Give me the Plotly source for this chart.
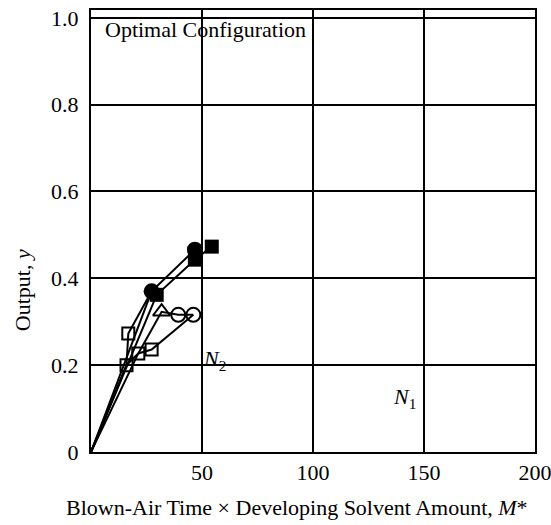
import plotly.graph_objects as go

# Data
fc_x = [0, 27.3, 46.8]            # filled circles
fc_y = [0, 0.370, 0.466]
fs_x = [0, 29.6, 46.8, 54.4]      # filled squares
fs_y = [0, 0.362, 0.443, 0.473]
osq_up_x = [0, 16.0, 16.8, 27.3]  # open squares path rising to the filled cluster
osq_up_y = [0, 0.200, 0.273, 0.370]
osq_x = [0, 16.0, 21.3, 27.3, 46.1]  # open squares path ending on open circle
osq_y = [0, 0.200, 0.227, 0.236, 0.316]
tri_x = [0, 21.3, 31.8, 39.3, 46.1]  # triangle / open circle path
tri_y = [0, 0.227, 0.323, 0.316, 0.316]

open_sq_x = [16.0, 16.8, 21.3, 27.3]
open_sq_y = [0.200, 0.273, 0.227, 0.236]
triangle_x = [31.8]
triangle_y = [0.323]
open_c_x = [39.3, 46.1]
open_c_y = [0.316, 0.316]

y_ticks = [0, 0.2, 0.4, 0.6, 0.8, 1.0]
y_ticktext = ["0", "0.2", "0.4", "0.6", "0.8", "1.0"]
x_ticks = [50, 100, 150, 200]
x_ticktext = ["50", "100", "150", "200"]

FONT = "Liberation Serif"
FS = 22
fig = go.Figure()

line = dict(color="black", width=2)
for xs, ys in [(fc_x, fc_y), (fs_x, fs_y), (osq_up_x, osq_up_y), (osq_x, osq_y), (tri_x, tri_y)]:
    fig.add_trace(go.Scatter(x=xs, y=ys, mode="lines", line=line, showlegend=False, hoverinfo="skip"))

fig.add_trace(go.Scatter(x=open_sq_x, y=open_sq_y, mode="markers",
                         marker=dict(symbol="square-open", size=12, color="black", line=dict(width=2)),
                         showlegend=False))
fig.add_trace(go.Scatter(x=triangle_x, y=triangle_y, mode="markers",
                         marker=dict(symbol="triangle-up-open", size=15, color="black", line=dict(width=2)),
                         showlegend=False))
fig.add_trace(go.Scatter(x=open_c_x, y=open_c_y, mode="markers",
                         marker=dict(symbol="circle-open", size=14, color="black", line=dict(width=2)),
                         showlegend=False))
fig.add_trace(go.Scatter(x=fs_x[1:], y=fs_y[1:], mode="markers",
                         marker=dict(symbol="square", size=14, color="black"),
                         showlegend=False))
fig.add_trace(go.Scatter(x=fc_x[1:], y=fc_y[1:], mode="markers",
                         marker=dict(symbol="circle", size=16, color="black"),
                         showlegend=False))

fig.update_layout(
    width=551, height=525,
    margin=dict(l=91, r=16, t=10, b=73),
    plot_bgcolor="white", paper_bgcolor="white",
    font=dict(family=FONT, size=FS, color="black"),
    xaxis=dict(range=[0, 200], tickvals=x_ticks, ticktext=x_ticktext,
               showgrid=True, gridcolor="black", gridwidth=2,
               showline=True, linecolor="black", linewidth=2, mirror=True,
               zeroline=False, ticks="", automargin=False, fixedrange=True,
               ticklabeloverflow="allow"),
    yaxis=dict(range=[0, 1.018], tickvals=y_ticks, ticktext=y_ticktext,
               showgrid=True, gridcolor="black", gridwidth=2,
               showline=True, linecolor="black", linewidth=2, mirror=True,
               zeroline=False, ticks="", ticklabelstandoff=6, automargin=False, fixedrange=True,
               ticklabeloverflow="allow"),
)

fig.add_annotation(x=5.4, y=0.974, xref="x", yref="y", text="Optimal Configuration",
                   showarrow=False, xanchor="left", yanchor="middle", font=dict(size=FS))
fig.add_annotation(x=55.5, y=0.212, xref="x", yref="y", text="<i>N</i><sub>2</sub>",
                   showarrow=False, xanchor="center", yanchor="middle", font=dict(size=FS))
fig.add_annotation(x=141.4, y=0.124, xref="x", yref="y", text="<i>N</i><sub>1</sub>",
                   showarrow=False, xanchor="center", yanchor="middle", font=dict(size=FS))
fig.add_annotation(x=(297 - 91) / 444, y=(451.7 - 507) / 441.7, xref="paper", yref="paper",
                   text="Blown-Air Time × Developing Solvent Amount, <i>M</i>*",
                   showarrow=False, xanchor="center", yanchor="middle", font=dict(size=FS))
fig.add_annotation(x=(22 - 91) / 444, y=(451.7 - 290) / 441.7, xref="paper", yref="paper",
                   text="Output, <i>y</i>", textangle=-90,
                   showarrow=False, xanchor="center", yanchor="middle", font=dict(size=FS))

fig.write_html("out.html", config={"displayModeBar": False},
               post_script="document.body.style.margin='0px';")
